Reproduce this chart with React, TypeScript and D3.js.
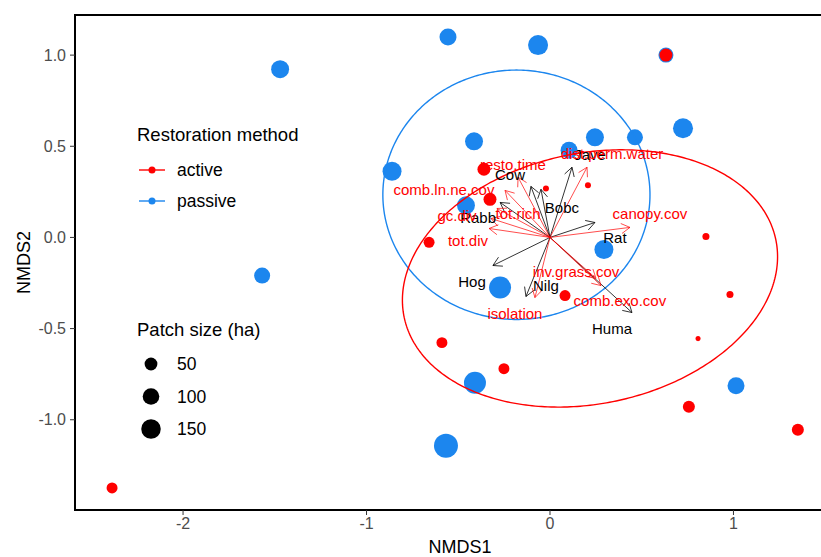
import React from 'react';
import * as d3 from 'd3';

// ---- site scores (NMDS) ----
const passiveNMDS1 = [-0.556, -0.065, -1.471, 0.632, 0.725, 0.463, 0.245, -0.414, 0.104, -0.861, -0.458, 0.294, -1.569, -0.272, -0.409, -0.567, 1.014];
const passiveNMDS2 = [1.099, 1.055, 0.923, 1.0, 0.599, 0.549, 0.549, 0.527, 0.478, 0.363, 0.176, -0.066, -0.209, -0.275, -0.797, -1.143, -0.813];
const passivePatch = [106, 159, 122, 77, 159, 91, 122, 122, 106, 140, 122, 140, 91, 200, 200, 246, 106];

const activeNMDS1 = [0.632, -0.36, -0.327, -0.022, 0.207, -0.659, 0.85, 0.082, 0.981, 0.807, -0.589, -0.251, 0.757, 1.351, -2.387];
const activeNMDS2 = [1.0, 0.374, 0.209, 0.269, 0.286, -0.027, 0.005, -0.319, -0.313, -0.555, -0.577, -0.72, -0.929, -1.055, -1.374];
const activePatch = [52, 52, 52, 3.4, 3.4, 32, 7, 32, 7, 1.2, 32, 32, 42, 42, 32];

// ---- ellipses (centre, semi-axes, rotation in degrees) ----
const ellipseGroups = ['passive', 'active'];
const ellipseCX = [-0.183, 0.218];
const ellipseCY = [0.234, -0.225];
const ellipseA = [0.728, 1.035];
const ellipseB = [0.684, 0.687];
const ellipseAngle = [0, 12];

// ---- species vectors ----
const speciesNames = ['Jave', 'Cow', 'Bobc', 'Rabb', 'Rat', 'Hog', 'Nilg', 'Huma'];
const speciesX = [0.12, -0.104, -0.049, -0.272, 0.245, -0.311, -0.131, 0.447];
const speciesY = [0.385, 0.28, 0.264, 0.192, 0.082, -0.154, -0.324, -0.412];
const speciesLabelX = [0.218, -0.218, 0.065, -0.392, 0.354, -0.425, -0.022, 0.338];
const speciesLabelY = [0.456, 0.346, 0.165, 0.11, 0.0, -0.242, -0.264, -0.5];

// ---- environmental vectors ----
const envNames = ['dist.perm.water', 'resto.time', 'comb.ln.ne.cov', 'tot.rich', 'gc.div', 'tot.div', 'canopy.cov', 'inv.grass.cov', 'comb.exo.cov', 'isolation'];
const envX = [0.202, -0.174, -0.245, -0.289, -0.322, -0.332, 0.436, 0.251, 0.278, -0.082];
const envY = [0.385, 0.33, 0.258, 0.159, 0.104, 0.049, 0.055, -0.225, -0.264, -0.33];
const envLabelX = [0.338, -0.202, -0.578, -0.174, -0.507, -0.447, 0.545, 0.142, 0.381, -0.191];
const envLabelY = [0.462, 0.401, 0.264, 0.132, 0.121, -0.016, 0.132, -0.187, -0.346, -0.418];

// ---- axes / legend ----
const xTicks = [-2, -1, 0, 1];
const xTickLabels = ['-2', '-1', '0', '1'];
const yTicks = [1.0, 0.5, 0.0, -0.5, -1.0];
const yTickLabels = ['1.0', '0.5', '0.0', '-0.5', '-1.0'];
const methodLabels = ['active', 'passive'];
const sizeBreaks = [50, 100, 150];

const RED = '#FF0000';
const BLUE = '#1C86EE';
const FONT = '"Liberation Sans", Arial, sans-serif';

const W = 821;
const H = 557;
const panel = { left: 75, right: 845, top: 15, bottom: 510 };

export default function App() {
  const x = d3.scaleLinear().domain([-2.589, 1.608]).range([panel.left, panel.right]);
  const y = d3.scaleLinear().domain([-1.495, 1.22]).range([panel.bottom, panel.top]);
  const r = d3.scaleSqrt().domain([0, 200]).range([1.8, 11]);

  const colorOf = (g: string) => (g === 'active' ? RED : BLUE);

  const ellipsePath = (i: number) => {
    const th = (ellipseAngle[i] * Math.PI) / 180;
    const ts = d3.range(0, 361).map((d) => (d * Math.PI) / 180);
    const line = d3
      .line<number>()
      .x((t) => x(ellipseCX[i] + ellipseA[i] * Math.cos(th) * Math.cos(t) - ellipseB[i] * Math.sin(th) * Math.sin(t)))
      .y((t) => y(ellipseCY[i] + ellipseA[i] * Math.sin(th) * Math.cos(t) + ellipseB[i] * Math.cos(th) * Math.sin(t)));
    return line(ts) + 'Z';
  };

  const arrow = (vx: number, vy: number, headLen: number) => {
    const x0 = x(0), y0 = y(0), x1 = x(vx), y1 = y(vy);
    const ang = Math.atan2(y1 - y0, x1 - x0);
    const a = Math.PI / 6;
    const hx1 = x1 - headLen * Math.cos(ang - a);
    const hy1 = y1 - headLen * Math.sin(ang - a);
    const hx2 = x1 - headLen * Math.cos(ang + a);
    const hy2 = y1 - headLen * Math.sin(ang + a);
    return `M${x0},${y0}L${x1},${y1}M${hx1},${hy1}L${x1},${y1}L${hx2},${hy2}`;
  };

  return (
    <svg width={W} height={H} style={{ position: 'absolute', left: 0, top: 0, background: '#fff' }} fontFamily={FONT}>
      <defs>
        <clipPath id="panelClip">
          <rect x={panel.left} y={panel.top} width={panel.right - panel.left} height={panel.bottom - panel.top} />
        </clipPath>
      </defs>
      <rect x={0} y={0} width={W} height={H} fill="#fff" />

      <g clipPath="url(#panelClip)">
        {/* points: passive then active */}
        {passiveNMDS1.map((d, i) => (
          <circle key={'p' + i} cx={x(d)} cy={y(passiveNMDS2[i])} r={r(passivePatch[i])} fill={BLUE} />
        ))}
        {activeNMDS1.map((d, i) => (
          <circle key={'a' + i} cx={x(d)} cy={y(activeNMDS2[i])} r={r(activePatch[i])} fill={RED} />
        ))}

        {/* ellipses */}
        {ellipseGroups.map((g, i) => (
          <path key={'e' + g} d={ellipsePath(i)} fill="none" stroke={colorOf(g)} strokeWidth={1.4} />
        ))}

        {/* species arrows */}
        {speciesNames.map((n, i) => (
          <path key={'sa' + n} d={arrow(speciesX[i], speciesY[i], 10)} fill="none" stroke="#000" strokeWidth={0.8} />
        ))}
        {/* env arrows */}
        {envNames.map((n, i) => (
          <path key={'ea' + n} d={arrow(envX[i], envY[i], 10)} fill="none" stroke={RED} strokeWidth={0.7} />
        ))}

        {/* labels */}
        {speciesNames.map((n, i) => (
          <text key={'sl' + n} x={x(speciesLabelX[i])} y={y(speciesLabelY[i])} textAnchor="middle" dominantBaseline="central" fontSize={15} fill="#000">
            {n}
          </text>
        ))}
        {envNames.map((n, i) => (
          <text key={'el' + n} x={x(envLabelX[i])} y={y(envLabelY[i])} textAnchor="middle" dominantBaseline="central" fontSize={15} fill={RED}>
            {n}
          </text>
        ))}
      </g>

      {/* panel border */}
      <rect x={panel.left} y={panel.top} width={panel.right - panel.left} height={panel.bottom - panel.top} fill="none" stroke="#000" strokeWidth={2} />

      {/* x axis */}
      {xTicks.map((t, i) => (
        <g key={'xt' + i}>
          <line x1={x(t)} x2={x(t)} y1={panel.bottom} y2={panel.bottom + 5} stroke="#333" strokeWidth={1} />
          <text x={x(t)} y={panel.bottom + 19} textAnchor="middle" fontSize={16} fill="#4D4D4D">
            {xTickLabels[i]}
          </text>
        </g>
      ))}
      <text x={(panel.left + panel.right) / 2} y={553} textAnchor="middle" fontSize={18} fill="#000">
        NMDS1
      </text>

      {/* y axis */}
      {yTicks.map((t, i) => (
        <g key={'yt' + i}>
          <line x1={panel.left - 5} x2={panel.left} y1={y(t)} y2={y(t)} stroke="#333" strokeWidth={1} />
          <text x={panel.left - 9} y={y(t)} textAnchor="end" dominantBaseline="central" fontSize={16} fill="#4D4D4D">
            {yTickLabels[i]}
          </text>
        </g>
      ))}
      <text
        transform={`translate(30,${(panel.top + panel.bottom) / 2}) rotate(-90)`}
        textAnchor="middle"
        fontSize={18}
        fill="#000"
      >
        NMDS2
      </text>

      {/* legend: restoration method */}
      <text x={137} y={141} fontSize={18.5} fill="#000">Restoration method</text>
      {methodLabels.map((m, i) => (
        <g key={'lm' + m}>
          <line x1={139} x2={165} y1={170 + i * 31} y2={170 + i * 31} stroke={colorOf(m)} strokeWidth={1.4} />
          <circle cx={152} cy={170 + i * 31} r={3.5} fill={colorOf(m)} />
          <text x={177} y={170 + i * 31} dominantBaseline="central" fontSize={17.5} fill="#000">
            {m}
          </text>
        </g>
      ))}

      {/* legend: patch size */}
      <text x={137} y={336} fontSize={18.5} fill="#000">Patch size (ha)</text>
      {sizeBreaks.map((s, i) => (
        <g key={'ls' + s}>
          <circle cx={151} cy={364 + i * 32.5} r={r(s)} fill="#000" />
          <text x={177} y={364 + i * 32.5} dominantBaseline="central" fontSize={17.5} fill="#000">
            {s}
          </text>
        </g>
      ))}
    </svg>
  );
}
